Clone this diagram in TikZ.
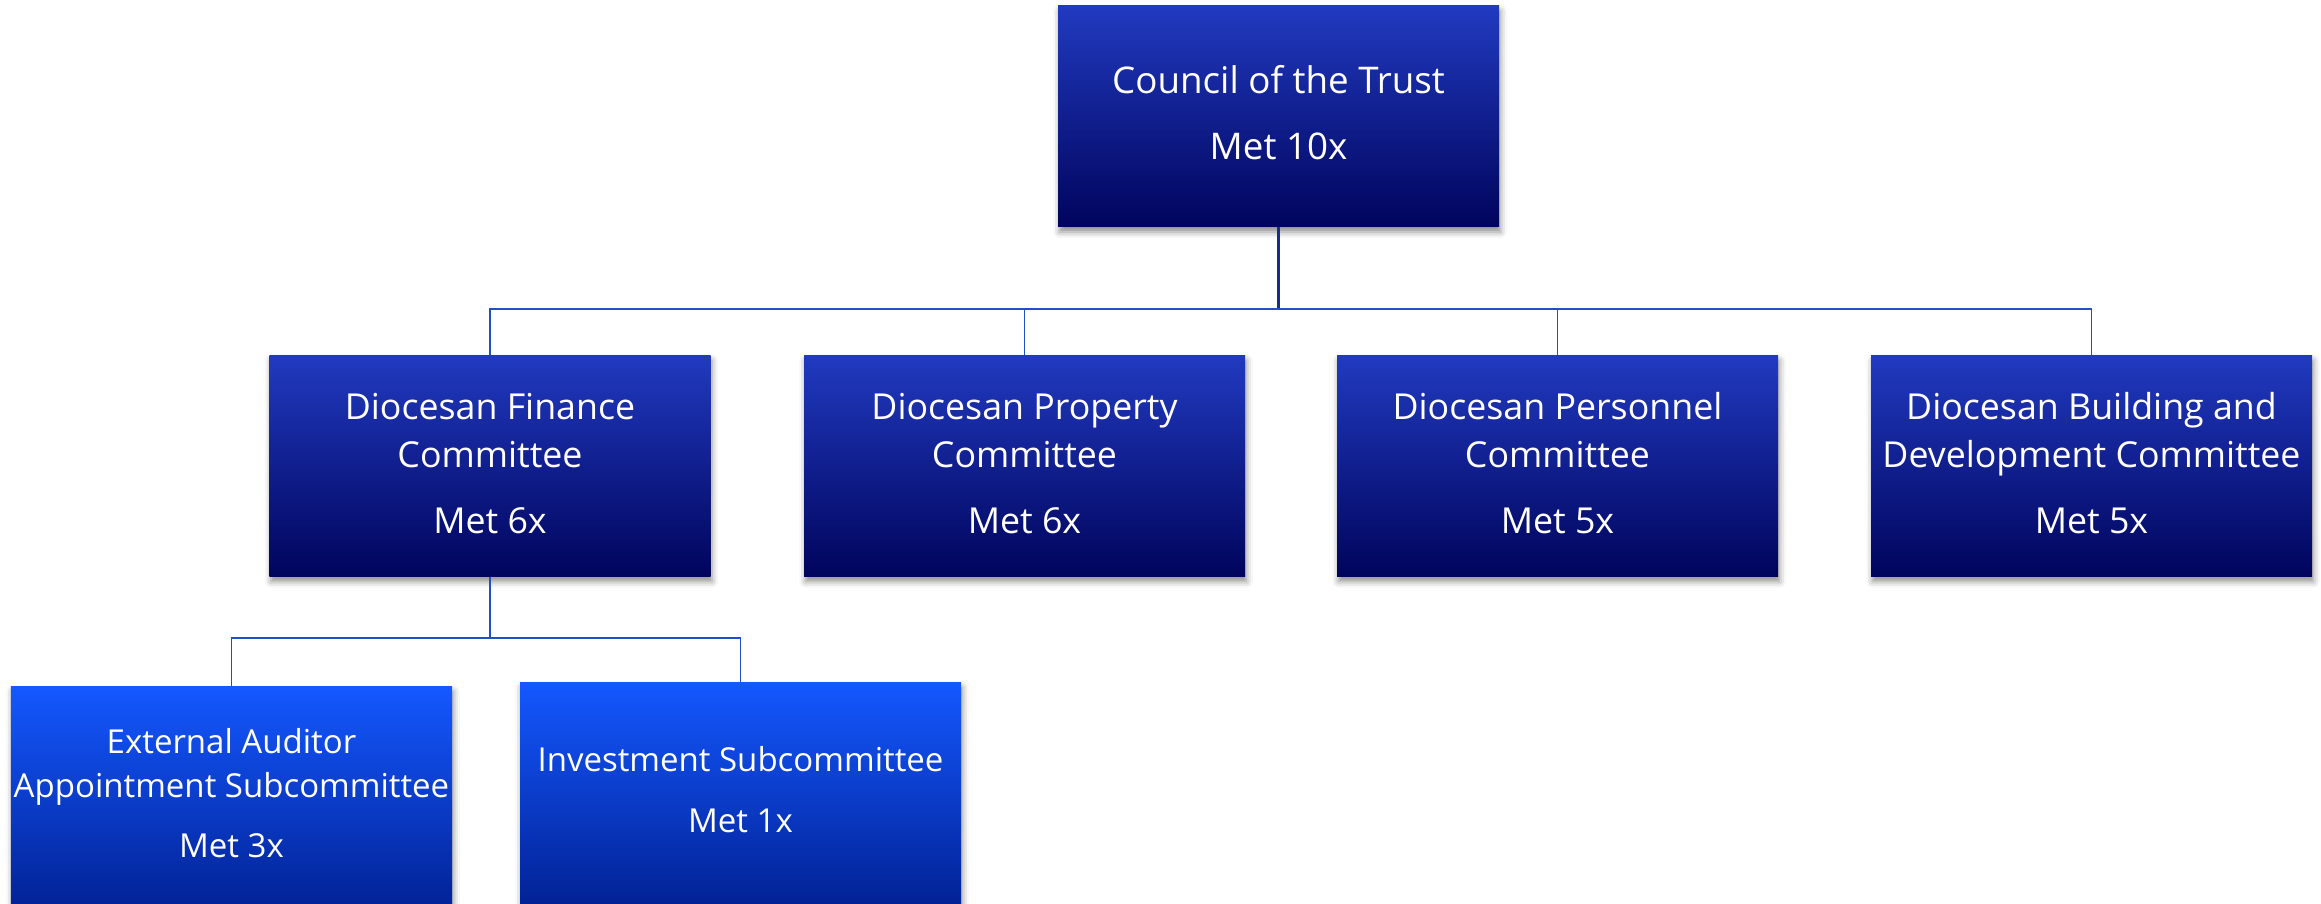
\documentclass[tikz,border=0pt]{standalone}
\usepackage{fontspec}
\setmainfont{Open Sans}
\usetikzlibrary{shadows.blur}
\definecolor{topA}{RGB}{33,58,192}
\definecolor{midA}{RGB}{2,24,152}
\definecolor{botA}{RGB}{0,4,92}
\definecolor{topB}{RGB}{20,88,255}
\definecolor{midB}{RGB}{8,58,212}
\definecolor{botB}{RGB}{2,34,150}
\definecolor{linec}{RGB}{30,80,200}
\definecolor{linetop}{RGB}{20,45,150}
\tikzset{
  orgbox/.style={rectangle, minimum width=176.4pt, minimum height=88.4pt, inner sep=0pt,
    blur shadow={shadow xshift=0.6pt, shadow yshift=-2.2pt, shadow blur radius=2.5pt, shadow opacity=45}},
  boxA/.style={orgbox, top color=topA, middle color=midA, bottom color=botA},
  boxB/.style={orgbox, top color=topB, middle color=midB, bottom color=botB},
  lbl/.style={anchor=base, text=white, inner sep=0pt, font=\fontsize{14.3}{17}\selectfont},
  lblT/.style={lbl, font=\fontsize{14.7}{17}\selectfont},
  lblS/.style={lbl, font=\fontsize{13.2}{16}\selectfont},
  conn/.style={draw=linec, line width=0.7pt},
  conntop/.style={draw=linetop, line width=1.2pt}
}
\begin{document}
\begin{tikzpicture}[x=0.4pt,y=-0.4pt]
\useasboundingbox (0,0) rectangle (2321,903);
% boxes
\node[boxA] (council) at (1278.5,116) {};
\node[boxA] (fin)  at (490,465.5) {};
\node[boxA] (prop) at (1024.5,465.5) {};
\node[boxA] (pers) at (1557.5,465.5) {};
\node[boxA] (build) at (2091.5,465.5) {};
\node[boxB] (ext) at (231.5,796.5) {};
\node[boxB] (inv) at (740.5,792.5) {};
% connectors
\coordinate (bus1) at (1278.5,309);
\coordinate (bus2) at (490,638);
\draw[conntop] (council.south) -- (bus1);
\foreach \c in {fin,prop,pers,build} \draw[conn] (bus1) -| (\c.north);
\draw[conn] (fin.south) -- (bus2);
\foreach \c in {ext,inv} \draw[conn] (bus2) -| (\c.north);
% labels
\node[lblT] (t1) at (1278.5,93) {Council of the Trust};
\node[lblT] (t2) at (1278.5,159) {Met 10x};
\node[lbl] (f1) at (490,419) {Diocesan Finance};
\node[lbl] (f2) at (490,467) {Committee};
\node[lbl] (f3) at (490,533) {Met 6x};
\node[lbl] (p1) at (1024.5,419) {Diocesan Property};
\node[lbl] (p2) at (1024.5,467) {Committee};
\node[lbl] (p3) at (1024.5,533) {Met 6x};
\node[lbl] (e1) at (1557.5,419) {Diocesan Personnel};
\node[lbl] (e2) at (1557.5,467) {Committee};
\node[lbl] (e3) at (1557.5,533) {Met 5x};
\node[lbl] (b1) at (2091.5,419) {Diocesan Building and};
\node[lbl] (b2) at (2091.5,467) {Development Committee};
\node[lbl] (b3) at (2091.5,533) {Met 5x};
\node[lblS] (x1) at (231.5,753) {External Auditor};
\node[lblS] (x2) at (231.5,797) {Appointment Subcommittee};
\node[lblS] (x3) at (231.5,857) {Met 3x};
\node[lblS] (i1) at (740.5,771) {Investment Subcommittee};
\node[lblS] (i2) at (740.5,832) {Met 1x};
\end{tikzpicture}
\end{document}
